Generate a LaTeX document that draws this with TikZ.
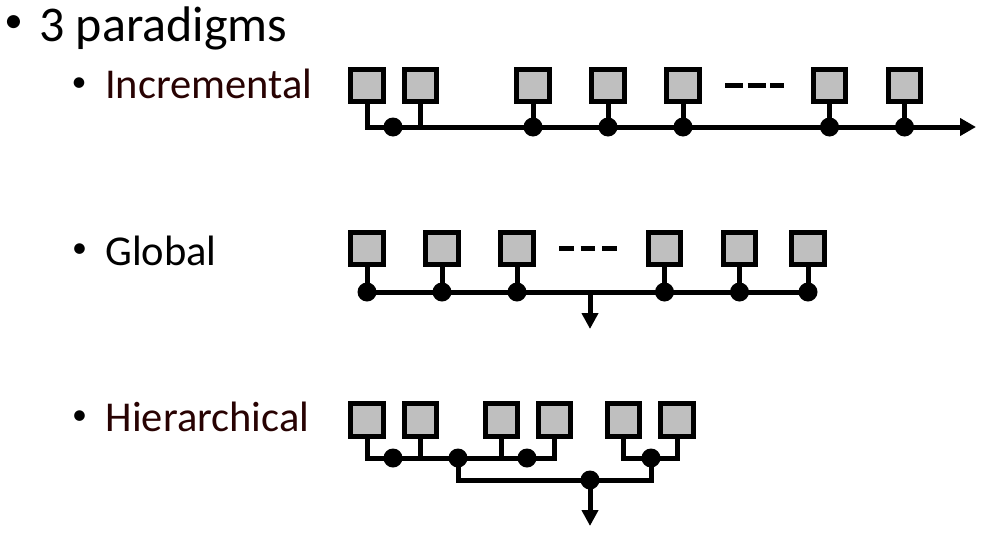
\documentclass[tikz,border=0pt]{standalone}
\usepackage{fontspec}
\setmainfont{Carlito}
\usetikzlibrary{arrows.meta}
\definecolor{boxgray}{RGB}{191,191,191}
\definecolor{labelred}{RGB}{40,2,2}
\begin{document}
\begin{tikzpicture}[x=1pt,y=-1pt,
  cell/.style={draw=black, line width=5pt, fill=boxgray, minimum size=32.5pt, inner sep=0pt},
  junction/.style={circle, fill=black, minimum size=19pt, inner sep=0pt},
  wire/.style={line width=5pt},
  bigarrow/.style={wire, -{Triangle[length=16pt,width=17pt]}},
  downarrow/.style={wire, -{Triangle[length=16pt,width=16pt]}},
  head/.style={anchor=base west, inner sep=0pt, font=\fontsize{50}{60}\selectfont},
  item/.style={anchor=base west, inner sep=0pt, font=\fontsize{42.5}{50}\selectfont},
  bulletA/.style={inner sep=0pt, font=\fontsize{37}{44}\selectfont},
  bulletB/.style={inner sep=0pt, font=\fontsize{30}{36}\selectfont},
  etc/.style={line width=5pt}
]
\useasboundingbox (0,0) rectangle (991,533);

% ---- texts ----
\node[bulletA] (b0) at (13.5,24) {•};
\node[head] (t0) at (39,41.5) {3 paradigms};
\node[bulletB] (b1) at (79,85) {•};
\node[item, text=labelred] (t1) at (105,98.5) {Incremental};
\node[bulletB] (b2) at (79.5,251) {•};
\node[item] (t2) at (105,265) {Global};
\node[bulletB] (b3) at (79.5,418) {•};
\node[item, text=labelred] (t3) at (105.5,431.5) {Hierarchical};

% ---- Incremental ----
\node[cell] (i1) at (367,85.5) {};
\node[cell] (i2) at (420.5,85.5) {};
\node[cell] (i3) at (533,85.5) {};
\node[cell] (i4) at (608,85.5) {};
\node[cell] (i5) at (683,85.5) {};
\node[cell] (i6) at (829.5,85.5) {};
\node[cell] (i7) at (904.5,85.5) {};
\coordinate (iend) at (976,127);
\coordinate (idl) at (725,85.5);
\coordinate (idr) at (784,85.5);
\draw[etc, dash pattern=on 18pt off 4.5pt] (idl) -- (idr);
\draw[bigarrow] (i1.south) |- (iend);
\draw[wire] (i2.south) -- (i2.south |- iend);
\foreach \k in {3,...,7} {\draw[wire] (i\k.south) -- (i\k.south |- iend);}
\node[junction] (di1) at (393,127) {};
\node[junction] (di3) at (533,127) {};
\node[junction] (di4) at (608,127) {};
\node[junction] (di5) at (683,127) {};
\node[junction] (di6) at (829.5,127) {};
\node[junction] (di7) at (904.5,127) {};

% ---- Global ----
\node[cell] (g1) at (367,248.5) {};
\node[cell] (g2) at (442,248.5) {};
\node[cell] (g3) at (517,248.5) {};
\node[cell] (g4) at (664.5,248.5) {};
\node[cell] (g5) at (739.5,248.5) {};
\node[cell] (g6) at (808,248.5) {};
\coordinate (gdl) at (559,248.5);
\coordinate (gdr) at (618,248.5);
\draw[etc, dash pattern=on 14.5pt off 7pt] (gdl) -- (gdr);
\foreach \k in {1,...,6} {\node[junction] (dg\k) at (g\k |- 0,292) {};}
\draw[wire] (dg1.center) -- (dg6.center);
\foreach \k in {1,...,6} {\draw[wire] (g\k.south) -- (dg\k.center);}
\coordinate (gout) at (590,292);
\coordinate (gtip) at (590,329);
\draw[downarrow] (gout) -- (gtip);

% ---- Hierarchical ----
\node[cell] (h1) at (367,420) {};
\node[cell] (h2) at (420.5,420) {};
\node[cell] (h3) at (501.5,420) {};
\node[cell] (h4) at (554.5,420) {};
\node[cell] (h5) at (623.5,420) {};
\node[cell] (h6) at (677,420) {};
\node[junction] (dh1) at (393,458) {};
\node[junction] (dh2) at (458,458) {};
\node[junction] (dh3) at (527,458) {};
\node[junction] (dh4) at (651,458) {};
\node[junction] (dh5) at (590,480) {};
\coordinate (htip) at (590,526);
\draw[wire] (h1.south) |- (dh2.center) -| (h4.south);
\draw[wire] (h2.south) -- (h2.south |- dh1);
\draw[wire] (h3.south) -- (h3.south |- dh1);
\draw[wire] (h5.south) |- (dh4.center) -| (h6.south);
\draw[wire] (dh2.center) |- (dh5.center) -| (dh4.center);
\draw[downarrow] (dh5.center) -- (htip);
\end{tikzpicture}
\end{document}
